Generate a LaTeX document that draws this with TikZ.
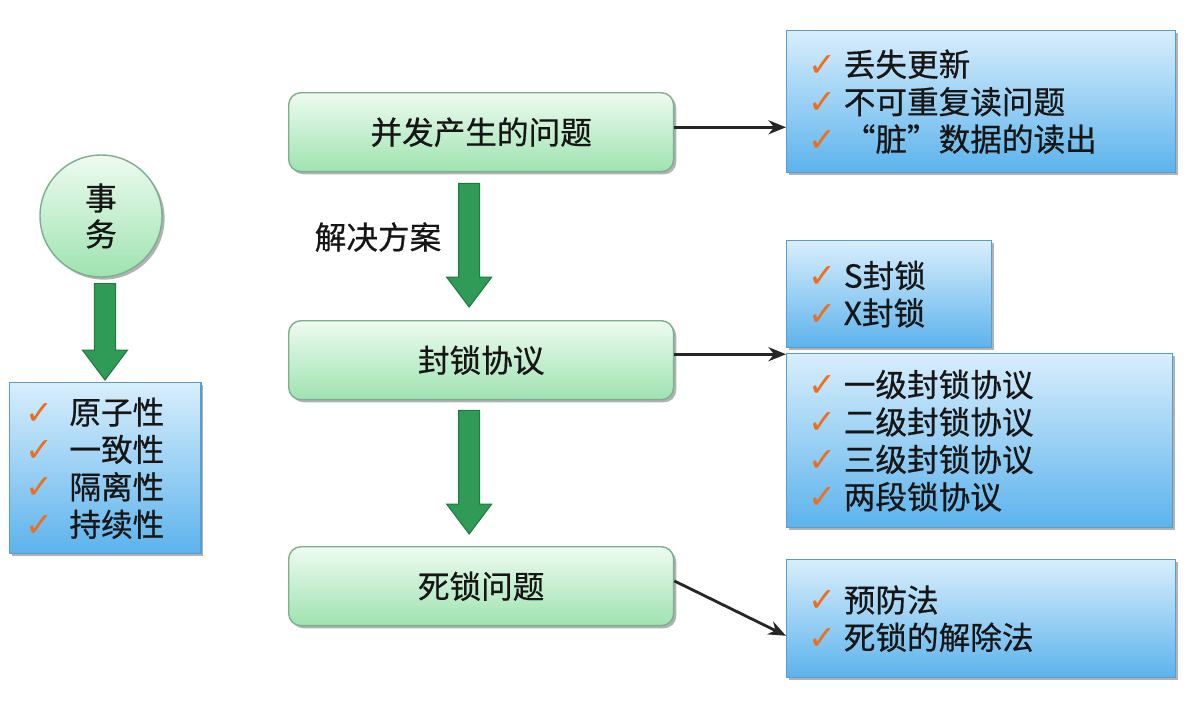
\documentclass[tikz,border=0pt]{standalone}
\usepackage{fontspec}
\setmainfont[FakeBold=0.6]{Noto Sans CJK SC}
\newfontfamily\dejavu{DejaVu Sans}
\usetikzlibrary{arrows.meta,calc,shadows}
\definecolor{gtop}{HTML}{EEFBF0}
\definecolor{gbottom}{HTML}{9EE3B0}
\definecolor{gborder}{HTML}{7DAE8E}
\definecolor{btop}{HTML}{D8EEFC}
\definecolor{bbottom}{HTML}{5CB3EC}
\definecolor{bborder}{HTML}{5A9BD0}
\definecolor{arrowgreen}{HTML}{2F9B57}
\definecolor{arrowdark}{HTML}{1F7A40}
\definecolor{ckorange}{HTML}{EC6F1F}
\definecolor{ink}{HTML}{161616}
\newcommand{\ck}{\makebox[20pt][l]{\dejavu\fontsize{19}{19}\selectfont\color{ckorange}✓}}
\newcommand{\bigdown}[2]{%
	\path[garrow] let \p1=(#1), \p2=(#2) in
		(\x1-6pt,\y1) -- (\x1+6pt,\y1) -- (\x1+6pt,\y2+17pt) -- (\x1+12.8pt,\y2+17pt)
		-- (\x1,\y2) -- (\x1-12.8pt,\y2+17pt) -- (\x1-6pt,\y2+17pt) -- cycle;}
\tikzset{every node/.style={text=ink},
	bigfont/.style={font=\fontsize{18}{21.3}\selectfont},
	shade/.style={drop shadow={shadow xshift=1.5pt,shadow yshift=-1.5pt,fill=black,opacity=0.3}},
	topic/.style={draw=gborder,rounded corners=7pt,top color=gtop,bottom color=gbottom,
		anchor=north west,minimum width=7.7cm,minimum height=1.58cm,bigfont,shade},
	infobox/.style={draw=bborder,top color=btop,bottom color=bbottom,align=left,
		anchor=north west,inner xsep=12.5pt,bigfont,shade},
	link/.style={-{Stealth[length=10pt,width=8pt]},line width=1.6pt,draw=black!85},
	garrow/.style={fill=arrowgreen,draw=arrowdark,line width=0.6pt}}

\begin{document}
\begin{tikzpicture}
	[x=0.02cm,y=-0.02cm,thick]
	\useasboundingbox[fill=white] (0,0) rectangle (1198,704);
	\node [circle,draw=gborder,top color=gtop,bottom color=gbottom,minimum size=2.44cm,
		align=center,font=\fontsize{18}{20.5}\selectfont,shade] (tx) at (101,216) {事\\务};
	\node [infobox,inner xsep=9pt,text width=3.19cm,minimum height=3.42cm] (props) at (9,382)
		{\makebox[25pt][l]{\ck}原子性\\ \makebox[25pt][l]{\ck}一致性\\
		 \makebox[25pt][l]{\ck}隔离性\\ \makebox[25pt][l]{\ck}持续性};
	\node [topic] (q1) at (288,92) {并发产生的问题};
	\node [topic] (q2) at (288,320) {封锁协议};
	\node [topic] (q3) at (288,546) {死锁问题};
	\node [bigfont] (sol) at (378,237) {解决方案};
	\node [infobox,text width=6.9cm,minimum height=2.84cm] (p1) at (786,30)
		{\ck 丢失更新\\ \ck 不可重复读问题\\ \ck “脏”数据的读出};
	\node [infobox,text width=3.22cm,minimum height=2.14cm] (p2) at (786,240)
		{\ck S封锁\\ \ck X封锁};
	\node [infobox,text width=6.84cm,minimum height=3.48cm] (p3) at (786,353)
		{\ck 一级封锁协议\\ \ck 二级封锁协议\\ \ck 三级封锁协议\\ \ck 两段锁协议};
	\node [infobox,text width=6.9cm,minimum height=2.36cm] (p4) at (786,559)
		{\ck 预防法\\ \ck 死锁的解除法};
	\coordinate (c0) at ($(tx.south)+(4,6)$);
	\coordinate (c1) at ($(props.north)+(0.5,-2)$);
	\coordinate (a0) at ($(q1.south)+(-12,11)$);
	\coordinate (a1) at ($(q2.north)+(-12,-13)$);
	\coordinate (b0) at ($(q2.south)+(-12,10)$);
	\coordinate (b1) at ($(q3.north)+(-12,-12)$);
	\bigdown{c0}{c1}
	\bigdown{a0}{a1}
	\bigdown{b0}{b1}
	\draw [link] ([yshift=2.8pt]q1.east) -- ([yshift=2.8pt]q1.east -| p1.west);
	\draw [link] ([yshift=3.4pt]q2.east) -- ([yshift=3.4pt]q2.east -| p3.west);
	\draw [link] ([yshift=3pt]q3.east) -- ([yshift=-9.7pt]p4.west);
\end{tikzpicture}
\end{document}
